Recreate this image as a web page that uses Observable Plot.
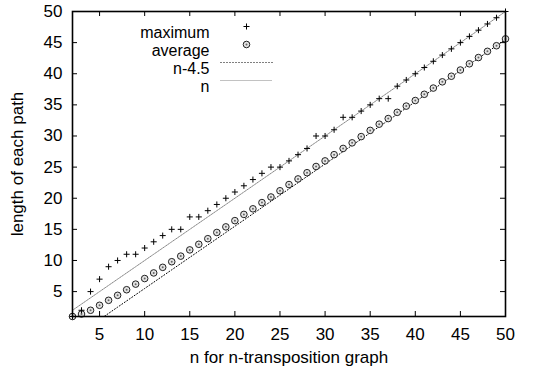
<!DOCTYPE html>
<html><head><meta charset="utf-8">
<script src="https://cdn.jsdelivr.net/npm/d3@7"></script>
<script src="https://cdn.jsdelivr.net/npm/@observablehq/plot@0.6"></script>
<style>body{margin:0;background:#fff}</style>
</head><body><div id="chart"></div>
<script>
const nValues = [2,3,4,5,6,7,8,9,10,11,12,13,14,15,16,17,18,19,20,21,22,23,24,25,26,27,28,29,30,31,32,33,34,35,36,37,38,39,40,41,42,43,44,45,46,47,48,49,50];
const maximum = [1,2,5,7,9,10,11,11,12,13,14,15,15,17,17,18,19,20,21,22,23,24,25,25,26,27,28,30,30,31,33,33,34,35,36,36,38,39,40,41,42,43,44,45,46,47,48,49,50];
const average = [1.0,1.4,2.0,2.8,3.6,4.4,5.3,6.2,7.1,8.0,8.9,9.8,10.7,11.7,12.6,13.5,14.5,15.4,16.4,17.4,18.3,19.3,20.2,21.2,22.2,23.1,24.1,25.1,26.0,27.0,28.0,28.9,29.9,30.9,31.9,32.8,33.8,34.8,35.7,36.7,37.7,38.7,39.6,40.6,41.6,42.6,43.6,44.5,45.6];
const xTicks = [5,10,15,20,25,30,35,40,45,50];
const yTicks = [5,10,15,20,25,30,35,40,45,50];
const legendLabels = ["maximum","average","n-4.5","n"];
const xLabel = "n for n-transposition graph";
const yLabel = "length of each path";

const points = nValues.map((n, i) => ({n, max: maximum[i], avg: average[i]}));
const lineData = nValues.map(n => ({n, lo: n - 4.5}));

const W = 538, H = 374, mL = 72, mR = 33, mT = 11, mB = 58;
const pw = W - mL - mR, ph = H - mT - mB;
const font = "'Liberation Sans', Arial, Helvetica, sans-serif";
const FS = 17, LFS = 16;
const hline = {draw(ctx) { ctx.moveTo(-26, 0); ctx.lineTo(26, 0); }};
const rows = [15, 33, 51, 69];
const circleStyle = {r: 3.3, stroke: "#222", strokeWidth: 1, fill: "#e4e4e4"};
const centerStyle = {r: 1, fill: "#666", stroke: "none"};

const chart = Plot.plot({
  width: W, height: H,
  marginLeft: mL, marginRight: mR, marginTop: mT, marginBottom: mB,
  style: {fontFamily: font, fontSize: FS + "px", background: "#fff", color: "#000"},
  x: {domain: [2, 50]},
  y: {domain: [1, 50]},
  marks: [
    Plot.line(lineData, {x: "n", y: "lo", stroke: "#000", strokeWidth: 1, strokeDasharray: "1,2", clip: true}),
    Plot.line(lineData, {x: "n", y: "n", stroke: "#777", strokeWidth: 0.9, strokeDasharray: "1,1", clip: true}),
    Plot.dot(points, {x: "n", y: "avg", ...circleStyle}),
    Plot.dot(points, {x: "n", y: "avg", ...centerStyle}),
    Plot.dot(points, {x: "n", y: "max", symbol: "plus", r: 2.1, stroke: "#000", strokeWidth: 1}),
    Plot.tickX(xTicks, {x: d => d, insetTop: ph - 5, stroke: "#000"}),
    Plot.tickX(xTicks, {x: d => d, insetBottom: ph - 5, stroke: "#000"}),
    Plot.tickY(yTicks, {y: d => d, insetRight: pw - 5, stroke: "#000"}),
    Plot.tickY(yTicks, {y: d => d, insetLeft: pw - 5, stroke: "#000"}),
    Plot.axisX({ticks: xTicks, tickSize: 0, tickPadding: 11, fontSize: FS, label: xLabel, labelArrow: "none", labelAnchor: "center", labelOffset: 46}),
    Plot.axisY({ticks: yTicks, tickSize: 0, tickPadding: 10, fontSize: FS, label: yLabel, labelArrow: "none", labelAnchor: "center", labelOffset: 62}),
    Plot.frame({stroke: "#000", strokeWidth: 1.6}),
    ...legendLabels.map((t, i) => Plot.text([t], {text: d => d, frameAnchor: "top-left", dx: 137, dy: rows[i], textAnchor: "end", fontSize: LFS})),
    Plot.dot([0], {frameAnchor: "top-left", dx: 174, dy: rows[0], symbol: "plus", r: 2.1, stroke: "#000", strokeWidth: 1}),
    Plot.dot([0], {frameAnchor: "top-left", dx: 174, dy: rows[1], ...circleStyle}),
    Plot.dot([0], {frameAnchor: "top-left", dx: 174, dy: rows[1], ...centerStyle}),
    Plot.dot([0], {frameAnchor: "top-left", dx: 174, dy: rows[2], symbol: hline, stroke: "#000", strokeWidth: 1, strokeDasharray: "1,2"}),
    Plot.dot([0], {frameAnchor: "top-left", dx: 174, dy: rows[3], symbol: hline, stroke: "#777", strokeWidth: 0.9, strokeDasharray: "1,1"})
  ]
});
document.getElementById("chart").appendChild(chart);
</script>
</body></html>
